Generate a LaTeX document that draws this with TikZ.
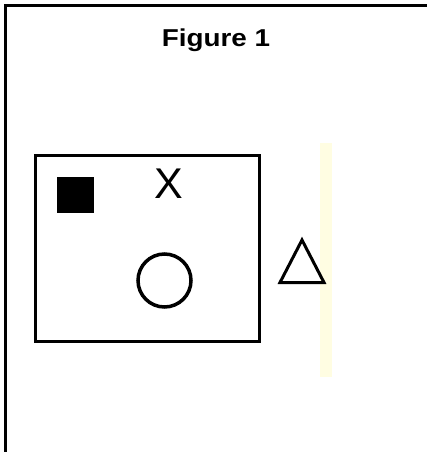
\documentclass[tikz,border=0pt]{standalone}
\usepackage{fontspec}
\setmainfont{Liberation Sans}
\usetikzlibrary{shapes.geometric}
\definecolor{paleyellow}{HTML}{FFFDE2}
\tikzset{
  frame/.style={line width=3pt, black},
  shape line/.style={line width=3pt, black},
}
\begin{document}
\begin{tikzpicture}[x=1pt,y=-1pt]
\useasboundingbox (0,0) rectangle (427,452);
% outer frame (left and top only)
\draw[frame] (5.5,452) -- (5.5,6) -- (427,6);
% title
\node[anchor=base, font=\bfseries\fontsize{24.4}{28}\selectfont, inner sep=0, xscale=1.14, transform shape] (title) at (216,47) {Figure 1};
% pale yellow strip
\fill[paleyellow] (320,143) rectangle (332,377);
% inner box
\draw[shape line] (35.5,155) rectangle (259.5,341.5);
% filled square
\fill[black] (57,177) rectangle (94,213);
% X
\node[anchor=base, font=\fontsize{43}{48}\selectfont, inner sep=0] (xlabel) at (168.5,198) {X};
% circle
\draw[shape line, line width=3.5pt] (164.5,280.5) circle (26.5);
% triangle
\draw[shape line, line join=miter] (302,240) -- (324,282.5) -- (280,282.5) -- cycle;
\end{tikzpicture}
\end{document}
